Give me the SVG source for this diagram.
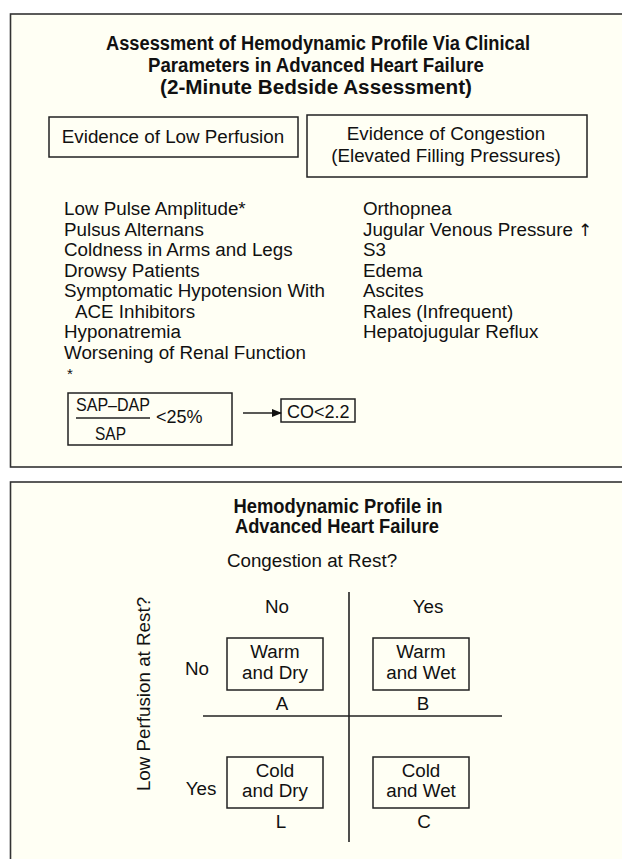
<svg xmlns="http://www.w3.org/2000/svg" width="622" height="859" viewBox="0 0 622 859">
<defs>
<style>
text{font-family:"Liberation Sans",Arial,sans-serif;fill:#111;}
.t{font-size:20px;font-weight:bold;text-anchor:middle;}
.b{font-size:18.8px;}
.c{text-anchor:middle;}
.panel{fill:#fffff4;stroke:#333;stroke-width:1.6;}
.box{fill:none;stroke:#222;stroke-width:1.5;}
.ln{stroke:#222;stroke-width:1.6;fill:none;}
</style>
<marker id="ah" markerWidth="10" markerHeight="8" refX="9" refY="4" orient="auto" markerUnits="userSpaceOnUse">
<path d="M0,0 L10,4 L0,8 Z" fill="#111"/>
</marker>
</defs>
<rect x="0" y="0" width="622" height="859" fill="#ffffff"/>

<g id="panel1">
<rect class="panel" x="10.5" y="14" width="640" height="453"/>
<g id="title1">
<text class="t" x="318" y="50" textLength="424" lengthAdjust="spacingAndGlyphs">Assessment of Hemodynamic Profile Via Clinical</text>
<text class="t" x="316" y="72" textLength="336" lengthAdjust="spacingAndGlyphs">Parameters in Advanced Heart Failure</text>
<text class="t" x="316" y="94" textLength="312" lengthAdjust="spacingAndGlyphs">(2-Minute Bedside Assessment)</text>
</g>
<g id="box-low-perfusion">
<rect class="box" x="49" y="117" width="249" height="40"/>
<text class="b c" x="173" y="143">Evidence of Low Perfusion</text>
</g>
<g id="box-congestion">
<rect class="box" x="307" y="115" width="280" height="62"/>
<text class="b c" x="446" y="140">Evidence of Congestion</text>
<text class="b c" x="446" y="162">(Elevated Filling Pressures)</text>
</g>
<g id="list-perfusion" class="b">
<text class="b" x="64" y="215">Low Pulse Amplitude*</text>
<text class="b" x="64" y="235.5">Pulsus Alternans</text>
<text class="b" x="64" y="256">Coldness in Arms and Legs</text>
<text class="b" x="64" y="276.5">Drowsy Patients</text>
<text class="b" x="64" y="297">Symptomatic Hypotension With</text>
<text class="b" x="75" y="317.5">ACE Inhibitors</text>
<text class="b" x="64" y="338">Hyponatremia</text>
<text class="b" x="64" y="358.5">Worsening of Renal Function</text>
<text class="b" x="67" y="379" style="font-size:15px">*</text>
</g>
<g id="list-congestion">
<text class="b" x="363" y="215">Orthopnea</text>
<text class="b" x="363" y="235.5">Jugular Venous Pressure <tspan style="font-family:'DejaVu Sans',sans-serif;font-size:17px">↑</tspan></text>
<text class="b" x="363" y="256">S3</text>
<text class="b" x="363" y="276.5">Edema</text>
<text class="b" x="363" y="297">Ascites</text>
<text class="b" x="363" y="317.5">Rales (Infrequent)</text>
<text class="b" x="363" y="338">Hepatojugular Reflux</text>
</g>
<g id="box-formula">
<rect class="box" x="68" y="393" width="164" height="52"/>
<text class="b" x="76" y="411" textLength="74" lengthAdjust="spacingAndGlyphs">SAP–DAP</text>
<line class="ln" x1="76" y1="418" x2="150" y2="418" style="stroke-width:1.3"/>
<text class="b" x="95" y="440" textLength="31" lengthAdjust="spacingAndGlyphs">SAP</text>
<text class="b" x="156" y="423" style="font-size:18px">&lt;25%</text>
</g>
<g id="box-co">
<rect class="box" x="281" y="399" width="74" height="23"/>
<text class="b" x="287" y="418" style="font-size:18px">CO&lt;2.2</text>
</g>
</g>

<g id="panel2">
<rect class="panel" x="10.5" y="482" width="640" height="400"/>
<g id="title2">
<text class="t" x="338" y="513" textLength="209" lengthAdjust="spacingAndGlyphs">Hemodynamic Profile in</text>
<text class="t" x="337" y="533" textLength="204" lengthAdjust="spacingAndGlyphs">Advanced Heart Failure</text>
</g>
<text id="axis-congestion" class="b c" x="312" y="567">Congestion at Rest?</text>
<text id="axis-perfusion" class="b c" transform="translate(150,694) rotate(-90)">Low Perfusion at Rest?</text>
<text id="col-no" class="b c" x="277" y="613">No</text>
<text id="col-yes" class="b c" x="428" y="613">Yes</text>
<text id="row-no" class="b c" x="197" y="675">No</text>
<text id="row-yes" class="b c" x="201" y="795">Yes</text>
<g id="profile-A">
<rect class="box" x="227" y="638" width="96" height="52"/>
<text class="b c" x="275" y="658">Warm</text>
<text class="b c" x="275" y="679">and Dry</text>
<text class="b c" x="282" y="710">A</text>
</g>
<g id="profile-B">
<rect class="box" x="373" y="638" width="96" height="52"/>
<text class="b c" x="421" y="658">Warm</text>
<text class="b c" x="421" y="679">and Wet</text>
<text class="b c" x="423" y="710">B</text>
</g>
<g id="profile-L">
<rect class="box" x="227" y="757" width="96" height="51"/>
<text class="b c" x="275" y="777">Cold</text>
<text class="b c" x="275" y="797">and Dry</text>
<text class="b c" x="281" y="828">L</text>
</g>
<g id="profile-C">
<rect class="box" x="373" y="757" width="96" height="51"/>
<text class="b c" x="421" y="777">Cold</text>
<text class="b c" x="421" y="797">and Wet</text>
<text class="b c" x="424" y="828">C</text>
</g>
</g>

<g id="connectors">
<line class="ln" x1="243" y1="413" x2="281" y2="413" marker-end="url(#ah)"/>
<line class="ln" x1="349" y1="592" x2="349" y2="842"/>
<line class="ln" x1="203" y1="716" x2="502" y2="716"/>
</g>
</svg>
